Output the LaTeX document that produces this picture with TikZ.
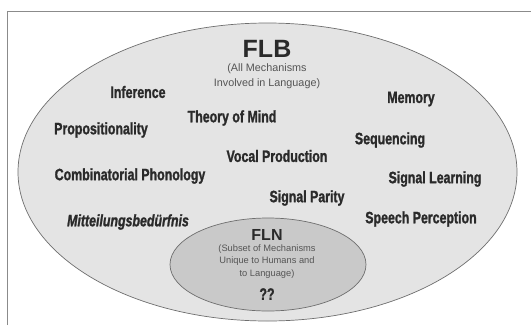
\documentclass[tikz,border=0pt]{standalone}
\usepackage{fontspec}
\setmainfont{Liberation Sans}
\newfontfamily\heavyfont[FakeStretch=0.75,FakeBold=1.3,UprightFont=* Bold,ItalicFont=* Bold Italic]{Liberation Sans}
\definecolor{inkgray}{HTML}{2A2A2A}
\definecolor{outerfill}{HTML}{E4E4E4}
\definecolor{innerfill}{HTML}{C9C9C9}
\definecolor{rimgray}{HTML}{6E6E6E}
\tikzset{
  mech/.style={text=inkgray,font=\heavyfont\fontsize{16.5}{17}\selectfont,inner sep=0pt},
  title/.style={text=inkgray,font=\bfseries\fontsize{25}{26}\selectfont,inner sep=0pt},
  note/.style={text=inkgray!80,align=center,inner sep=0pt}
}
\begin{document}
\begin{tikzpicture}[x=1pt,y=-1pt,line join=round]
    \useasboundingbox (0,0) rectangle (531,325);
    \def\ra{249.5}
    \def\rb{149}
    \def\sa{98}
    \def\sb{46.5}
    \coordinate (O) at (267.5,172);
    \coordinate (O') at (268,264.5);
    % frame
    \draw[rimgray!80,line width=0.8pt] (7,325) -- (7,11) -- (531,11);
    % ellipses
    \draw[rimgray,fill=outerfill,line width=0.7pt] (O) ellipse ({\ra pt} and {\rb pt});
    \draw[rimgray,fill=innerfill,line width=0.7pt] (O') ellipse ({\sa pt} and {\sb pt});
    % FLB
    \node[title] (flb) at (267,49) {FLB};
    \node[note,font=\fontsize{10.8}{15}\selectfont] (flbnote) at (267,76.5) {(All Mechanisms\\Involved in Language)};
    % mechanisms
    \node[mech] (inference) at (138,92) {Inference};
    \node[mech] (memory) at (411,99) {Memory};
    \node[mech] (tom) at (232,118) {Theory of Mind};
    \node[mech] (prop) at (101,130) {Propositionality};
    \node[mech] (seq) at (390,140) {Sequencing};
    \node[mech] (vocal) at (277,156) {Vocal Production};
    \node[mech] (phon) at (130,176) {Combinatorial Phonology};
    \node[mech] (siglearn) at (435,179) {Signal Learning};
    \node[mech] (parity) at (307,198) {Signal Parity};
    \node[mech,font=\heavyfont\itshape\fontsize{16.5}{17}\selectfont] (mitt) at (128,222) {Mitteilungsbedürfnis};
    \node[mech] (speech) at (421,219) {Speech Perception};
    % FLN
    \node[title,font=\bfseries\fontsize{16}{17}\selectfont] (fln) at (267,235) {FLN};
    \node[note,font=\fontsize{9.3}{12.5}\selectfont] (flnnote) at (267,261.5) {(Subset of Mechanisms\\Unique to Humans and\\to Language)};
    \node[mech] (unknown) at (267,294) {??};
\end{tikzpicture}
\end{document}
